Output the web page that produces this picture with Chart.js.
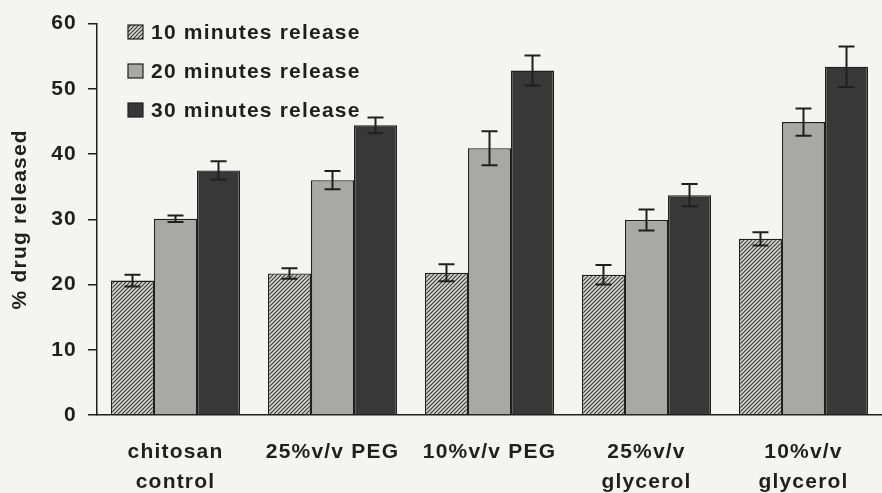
<!DOCTYPE html>
<html>
<head>
<meta charset="utf-8">
<script src="https://cdn.jsdelivr.net/npm/chart.js@4.4.1/dist/chart.umd.min.js"></script>
<style>
  html, body { margin: 0; padding: 0; background: #f4f4f2; }
  .chart-box { width: 882px; height: 493px; position: relative; }
</style>
</head>
<body>
<div class="chart-box">
  <canvas id="releaseChart"></canvas>
</div>
<script>
const categories = [['chitosan', 'control'], '25%v/v PEG', '10%v/v PEG', ['25%v/v', 'glycerol'], ['10%v/v', 'glycerol']];
const seriesNames = ['10 minutes release', '20 minutes release', '30 minutes release'];
const release10 = [20.6, 21.7, 21.8, 21.5, 27.0];
const release20 = [30.1, 36.0, 40.9, 29.9, 44.9];
const release30 = [37.5, 44.4, 52.8, 33.7, 53.4];
const error10 = [0.9, 0.8, 1.3, 1.5, 1.0];
const error20 = [0.5, 1.4, 2.6, 1.6, 2.1];
const error30 = [1.4, 1.2, 2.3, 1.7, 3.1];
const yTicks = [0, 10, 20, 30, 40, 50, 60];

const ink = '#1f1f1f';
const fontFamily = '"Liberation Sans", Arial, sans-serif';

function hatchPattern() {
  const c = document.createElement('canvas');
  c.width = 4;
  c.height = 4;
  const g = c.getContext('2d');
  g.fillStyle = '#d6d6d4';
  g.fillRect(0, 0, 4, 4);
  g.strokeStyle = '#363636';
  g.lineWidth = 1.1;
  g.beginPath();
  g.moveTo(-1, 1); g.lineTo(1, -1);
  g.moveTo(0, 4); g.lineTo(4, 0);
  g.moveTo(3, 5); g.lineTo(5, 3);
  g.stroke();
  return g.createPattern(c, 'repeat');
}

// letter spacing for the old-style wide text
const spacing = {
  id: 'spacing',
  beforeDraw(chart) {
    chart.ctx.letterSpacing = '1.2px';
  }
};

// error bars from the y scale
const errorBars = {
  id: 'errorBars',
  afterDatasetsDraw(chart) {
    const ctx = chart.ctx;
    const y = chart.scales.y;
    ctx.save();
    ctx.strokeStyle = ink;
    ctx.lineWidth = 2;
    chart.data.datasets.forEach((ds, i) => {
      const meta = chart.getDatasetMeta(i);
      meta.data.forEach((bar, j) => {
        const v = ds.data[j];
        const e = ds.errors[j];
        const top = y.getPixelForValue(v + e);
        const bottom = y.getPixelForValue(v - e);
        ctx.beginPath();
        ctx.moveTo(bar.x, top);
        ctx.lineTo(bar.x, bottom);
        ctx.moveTo(bar.x - 8, top);
        ctx.lineTo(bar.x + 8, top);
        ctx.moveTo(bar.x - 8, bottom);
        ctx.lineTo(bar.x + 8, bottom);
        ctx.stroke();
      });
    });
    ctx.restore();
  }
};

// legend inside the plot, top left
const boxLegend = {
  id: 'boxLegend',
  afterDraw(chart) {
    const ctx = chart.ctx;
    ctx.save();
    ctx.font = 'bold 21px ' + fontFamily;
    ctx.textBaseline = 'middle';
    ctx.textAlign = 'left';
    chart.data.datasets.forEach((ds, i) => {
      const cy = 32 + i * 39;
      ctx.fillStyle = ds.backgroundColor;
      ctx.fillRect(128, cy - 7, 15, 14);
      ctx.strokeStyle = ink;
      ctx.lineWidth = 1.2;
      ctx.strokeRect(128, cy - 7, 15, 14);
      ctx.fillStyle = ink;
      ctx.fillText(ds.label, 151, cy + 1);
    });
    ctx.restore();
  }
};

const hatch = hatchPattern();

new Chart(document.getElementById('releaseChart'), {
  type: 'bar',
  data: {
    labels: categories,
    datasets: [
      { label: seriesNames[0], data: release10, errors: error10, backgroundColor: hatch },
      { label: seriesNames[1], data: release20, errors: error20, backgroundColor: '#a8a8a6' },
      { label: seriesNames[2], data: release30, errors: error30, backgroundColor: '#383838' }
    ]
  },
  options: {
    responsive: true,
    maintainAspectRatio: false,
    animation: false,
    layout: { padding: { top: 23, right: 0, left: 0, bottom: 0 } },
    datasets: {
      bar: {
        categoryPercentage: 0.822,
        barPercentage: 1.0,
        borderColor: ink,
        borderWidth: 1.4
      }
    },
    plugins: {
      legend: { display: false },
      tooltip: { enabled: false }
    },
    scales: {
      x: {
        grid: { display: false, drawTicks: false },
        border: { display: true, color: ink, width: 1.5 },
        ticks: {
          color: ink,
          padding: 22,
          maxRotation: 0,
          autoSkip: false,
          font: { family: fontFamily, size: 21, weight: 'bold', lineHeight: 1.45 }
        },
        afterFit(scale) { scale.height = 78; }
      },
      y: {
        min: 0,
        max: 60,
        afterBuildTicks(scale) { scale.ticks = yTicks.map(v => ({ value: v })); },
        grid: { display: true, drawOnChartArea: false, drawTicks: true, tickLength: 9, color: ink, lineWidth: 1.5 },
        border: { display: true, color: ink, width: 1.5 },
        ticks: {
          color: ink,
          padding: 11,
          font: { family: fontFamily, size: 21, weight: 'bold' }
        },
        title: {
          display: true,
          text: '% drug released',
          color: ink,
          padding: { top: 8, bottom: 0 },
          font: { family: fontFamily, size: 21, weight: 'bold' }
        },
        afterFit(scale) { scale.width = 97; }
      }
    }
  },
  plugins: [spacing, errorBars, boxLegend]
});
</script>
</body>
</html>
